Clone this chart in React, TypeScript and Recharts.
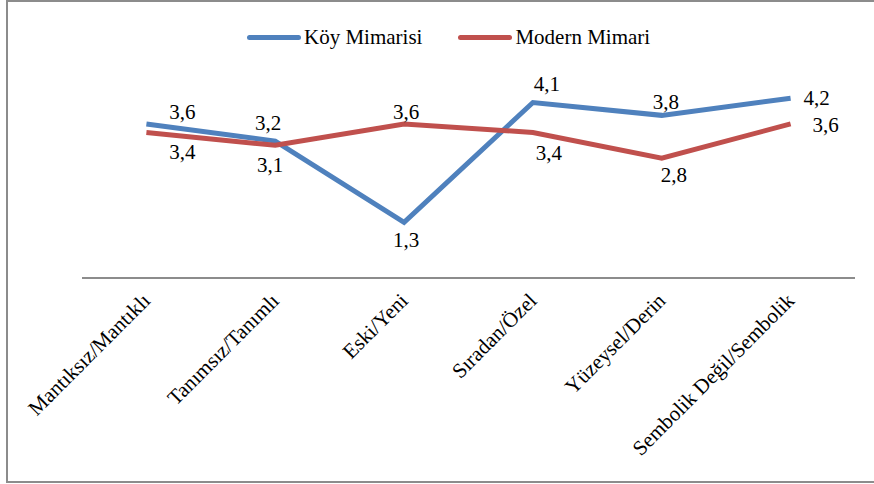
import { LineChart, Line, XAxis, YAxis, Legend, LabelList } from 'recharts';

const categories = [
  'Mantıksız/Mantıklı',
  'Tanımsız/Tanımlı',
  'Eski/Yeni',
  'Sıradan/Özel',
  'Yüzeysel/Derin',
  'Sembolik Değil/Sembolik',
];
const koyMimarisi = [3.6, 3.2, 1.3, 4.1, 3.8, 4.2];
const modernMimari = [3.4, 3.1, 3.6, 3.4, 2.8, 3.6];

// label offsets (dx, dy) from each point, mimicking the original placement
const koyLabelOffsets = [[36, -12], [-7, -18], [2, 18], [14, -19], [4, -13], [26, 0]];
const modernLabelOffsets = [[36, 20], [-5, 20], [2, -12], [16, 21], [12, 17], [35, 1]];

const data = categories.map((name, i) => ({
  name,
  koy: koyMimarisi[i],
  modern: modernMimari[i],
}));

const FONT = 'Liberation Serif, Tinos, Times New Roman, DejaVu Serif, serif';
const FONT_SIZE = 21;
const BLUE = '#4F81BD';
const RED = '#C0504D';

function makeLabel(offsets: number[][]) {
  return (props: any) => {
    const { x, y, value, index } = props;
    const [dx, dy] = offsets[index] || [0, 0];
    return (
      <text
        x={x + dx}
        y={y + dy}
        textAnchor="middle"
        dominantBaseline="central"
        style={{ fontFamily: FONT, fontSize: FONT_SIZE }}
        fill="#000"
      >
        {String(value).replace('.', ',')}
      </text>
    );
  };
}

function AngledTick(props: any) {
  const { x, y, payload } = props;
  const tx = x + 5;
  const ty = y + 16;
  return (
    <text
      x={tx}
      y={ty}
      textAnchor="end"
      transform={`rotate(-45, ${tx}, ${ty})`}
      style={{ fontFamily: FONT, fontSize: FONT_SIZE }}
      fill="#000"
    >
      {payload.value}
    </text>
  );
}

function LegendContent() {
  const items = [
    { label: 'Köy Mimarisi', color: BLUE },
    { label: 'Modern Mimari', color: RED },
  ];
  return (
    <div style={{ display: 'flex', alignItems: 'center', fontFamily: FONT, fontSize: FONT_SIZE, lineHeight: '22px' }}>
      {items.map((it, i) => (
        <div key={it.label} style={{ display: 'flex', alignItems: 'center', marginRight: i === 0 ? 36 : 0 }}>
          <span
            style={{
              display: 'inline-block',
              width: 54,
              height: 5,
              borderRadius: 3,
              background: it.color,
              marginRight: 3,
            }}
          />
          <span>{it.label}</span>
        </div>
      ))}
    </div>
  );
}

export default function App() {
  return (
    <div style={{ position: 'absolute', left: 0, top: 0, width: 874, height: 484, background: '#fff', overflow: 'hidden' }}>
      <div
        style={{
          position: 'absolute',
          left: 6,
          top: 0,
          width: 880,
          height: 483,
          border: '2px solid #8c8c8c',
          boxSizing: 'border-box',
        }}
      />
      <LineChart
        width={874}
        height={484}
        data={data}
        margin={{ top: 42, right: 19, bottom: 0, left: 82 }}
        style={{ position: 'absolute', left: 0, top: 0 }}
      >
        <XAxis
          dataKey="name"
          interval={0}
          height={206}
          tickLine={false}
          tick={<AngledTick />}
          axisLine={{ stroke: '#8c8c8c', strokeWidth: 2 }}
          padding={{ left: 64.4, right: 64.4 }}
        />
        <YAxis hide domain={[0, 5]} />
        <Legend
          verticalAlign="top"
          content={<LegendContent />}
          wrapperStyle={{ left: 247, top: 26, width: 440, height: 22 }}
        />
        <Line
          dataKey="koy"
          name="Köy Mimarisi"
          stroke={BLUE}
          strokeWidth={5}
          dot={false}
          isAnimationActive={false}
          strokeLinejoin="miter"
        >
          <LabelList dataKey="koy" content={makeLabel(koyLabelOffsets)} />
        </Line>
        <Line
          dataKey="modern"
          name="Modern Mimari"
          stroke={RED}
          strokeWidth={5}
          dot={false}
          isAnimationActive={false}
          strokeLinejoin="miter"
        >
          <LabelList dataKey="modern" content={makeLabel(modernLabelOffsets)} />
        </Line>
      </LineChart>
    </div>
  );
}
